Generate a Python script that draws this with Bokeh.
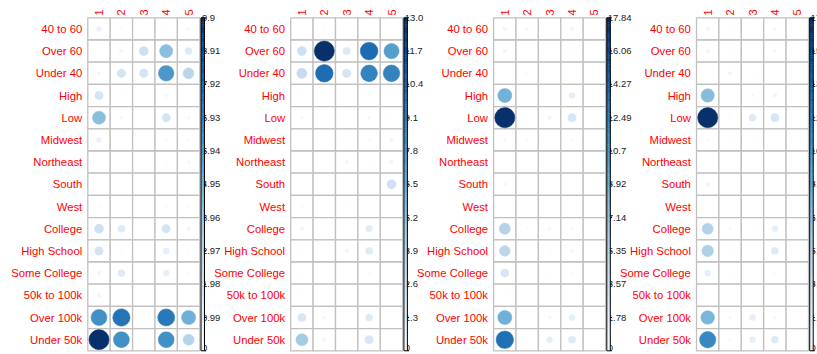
import math
from bokeh.plotting import figure
from bokeh.models import ColumnDataSource, Range1d, LinearColorMapper
from bokeh.transform import transform
from bokeh.core.properties import value
from bokeh.embed import file_html
from bokeh.resources import INLINE

# ---- data -------------------------------------------------------------
rows = ["40 to 60", "Over 60", "Under 40", "High", "Low", "Midwest", "Northeast",
        "South", "West", "College", "High School", "Some College", "50k to 100k",
        "Over 100k", "Under 50k"]
cols = ["1", "2", "3", "4", "5"]

panel1 = [
    [0.66, 0.12, 0.05, 0.12, 0.25],
    [0.06, 0.43, 2.05, 4.20, 1.26],
    [0.25, 1.75, 1.75, 5.90, 2.88],
    [1.75, 0.08, 0.05, 0.25, 0.12],
    [4.20, 0.25, 0.05, 1.75, 0.25],
    [0.66, 0.05, 0.05, 0.12, 0.12],
    [0.06, 0.06, 0.12, 0.12, 0.25],
    [0.06, 0.06, 0.05, 0.06, 0.12],
    [0.12, 0.05, 0.12, 0.12, 0.25],
    [2.05, 1.26, 0.05, 1.75, 0.43],
    [1.75, 0.12, 0.06, 0.93, 0.12],
    [0.43, 1.26, 0.05, 0.93, 0.12],
    [0.43, 0.05, 0.06, 0.05, 0.05],
    [6.20, 7.30, 0.05, 7.10, 4.90],
    [9.90, 6.20, 0.05, 6.20, 3.00],
]
panel2 = [
    [0.05, 0.15, 0.05, 0.05, 0.05],
    [2.70, 13.0, 1.80, 10.0, 7.40],
    [3.30, 9.90, 2.30, 8.90, 8.90],
    [0.15, 0.05, 0.08, 0.15, 0.08],
    [0.33, 0.05, 0.08, 0.33, 0.15],
    [0.05, 0.05, 0.05, 0.15, 0.56],
    [0.08, 0.05, 0.56, 0.15, 0.56],
    [0.05, 0.05, 0.15, 0.05, 2.70],
    [0.15, 0.08, 0.15, 0.05, 0.05],
    [0.56, 0.08, 0.15, 1.43, 0.05],
    [0.15, 0.08, 0.56, 1.65, 0.05],
    [0.15, 0.08, 0.05, 0.15, 0.08],
    [0.15, 0.05, 0.05, 0.08, 0.05],
    [2.14, 0.33, 0.08, 1.65, 0.08],
    [4.70, 0.56, 0.08, 2.14, 0.05],
]
panel3 = [
    [0.77, 0.45, 0.07, 0.77, 0.10],
    [0.77, 0.07, 0.07, 0.21, 0.07],
    [0.07, 0.21, 0.07, 0.10, 0.07],
    [8.60, 0.10, 0.21, 1.68, 0.07],
    [17.84, 0.10, 0.77, 2.90, 0.07],
    [0.45, 0.21, 0.10, 0.21, 0.07],
    [0.07, 0.07, 0.07, 0.07, 0.21],
    [0.45, 0.21, 0.21, 0.10, 0.07],
    [0.07, 0.07, 0.07, 0.07, 0.07],
    [5.50, 0.21, 0.45, 0.45, 0.10],
    [5.00, 0.10, 0.21, 0.45, 0.07],
    [2.90, 0.10, 0.21, 0.21, 0.07],
    [0.21, 0.07, 0.07, 0.10, 0.07],
    [8.80, 0.10, 0.45, 1.68, 0.07],
    [13.40, 0.21, 1.68, 2.27, 0.07],
]
panel4 = [
    [0.75, 0.20, 0.07, 0.43, 0.07],
    [0.75, 0.20, 0.10, 0.43, 0.10],
    [0.07, 0.75, 0.20, 0.07, 0.10],
    [7.60, 0.10, 0.43, 0.75, 0.07],
    [17.30, 0.20, 2.20, 2.85, 0.07],
    [0.20, 0.20, 0.20, 0.10, 0.07],
    [0.10, 0.07, 0.07, 0.07, 0.07],
    [0.75, 0.10, 0.20, 0.10, 0.10],
    [0.10, 0.07, 0.07, 0.07, 0.07],
    [5.30, 0.43, 0.20, 1.63, 0.07],
    [5.70, 0.20, 0.10, 2.20, 0.07],
    [1.63, 0.20, 0.10, 0.20, 0.07],
    [0.10, 0.07, 0.07, 0.10, 0.10],
    [8.00, 0.43, 1.63, 0.43, 0.07],
    [11.40, 0.20, 1.63, 2.20, 0.07],
]
panels = [panel1, panel2, panel3, panel4]

scale_max = [9.9, 13.0, 17.84, 17.3]
tick_labels = [
    ["0", "0.99", "1.98", "2.97", "3.96", "4.95", "5.94", "6.93", "7.92", "8.91", "9.9"],
    ["0", "1.3", "2.6", "3.9", "5.2", "6.5", "7.8", "9.1", "10.4", "11.7", "13.0"],
    ["0", "1.78", "3.57", "5.35", "7.14", "8.92", "10.7", "12.49", "14.27", "16.06", "17.84"],
    ["0", "1.73", "3.46", "5.19", "6.92", "8.65", "10.38", "12.11", "13.84", "15.57", "17.3"],
]

# ---- colour ramp (white -> navy blues) --------------------------------
blues = ["#F7FBFF", "#DEEBF7", "#C6DBEF", "#9ECAE1", "#6BAED6",
         "#4292C6", "#2171B5", "#08519C", "#08306B"]


def ramp(stops, n):
    rgb = [tuple(int(s[i:i + 2], 16) for i in (1, 3, 5)) for s in stops]
    out = []
    for k in range(n):
        t = k / (n - 1) * (len(rgb) - 1)
        i = min(int(t), len(rgb) - 2)
        f = t - i
        c = [round(a + (b - a) * f) for a, b in zip(rgb[i], rgb[i + 1])]
        out.append("#%02x%02x%02x" % tuple(c))
    return out


palette = ramp(blues, 200)

# ---- figure (units: one cell = 1) ------------------------------------
W, H = 817, 354
cell_w, cell_h = 22.4, 22.2
grid_left_px, grid_top_px = 87.3, 17.3
panel_step = 202.9 / cell_w
nrow, ncol = len(rows), len(cols)

x0 = -grid_left_px / cell_w
x1 = (W - grid_left_px) / cell_w
y1 = nrow + grid_top_px / cell_h
y0 = y1 - H / cell_h

p = figure(width=W, height=H, x_range=Range1d(x0, x1), y_range=Range1d(y0, y1),
           output_backend="svg", toolbar_location=None,
           x_axis_location=None, y_axis_location=None,
           min_border=0, min_border_left=0, min_border_right=0,
           min_border_top=0, min_border_bottom=0)
p.grid.visible = False
p.outline_line_color = None
p.background_fill_color = "white"
p.border_fill_color = "white"

FONT = value("Liberation Sans")
bar_l, bar_r = 5.054, 5.21

for k, (vals, vmax, labels) in enumerate(zip(panels, scale_max, tick_labels)):
    off = k * panel_step
    mapper = LinearColorMapper(palette=palette, low=0, high=vmax)

    xs, ys, vs, rs = [], [], [], []
    for i, r in enumerate(rows):
        for j, c in enumerate(cols):
            v = vals[i][j]
            xs.append(off + j + 0.5)
            ys.append(nrow - i - 0.5)
            vs.append(v)
            rs.append(0.45 * math.sqrt(v / vmax))
    src = ColumnDataSource(dict(x=xs, y=ys, v=vs, r=rs))

    # cell grid
    p.rect("x", "y", width=1, height=1, source=src, fill_color="white",
           line_color="#c0c0c0", line_width=1.3)
    # circles: area and colour scale with the value
    p.circle("x", "y", radius="r", source=src,
             fill_color=transform("v", mapper), line_color=transform("v", mapper),
             line_width=0.5)

    # colour legend labels (drawn first so the bar sits over their left edge)
    ty = [nrow * t / 10 for t in range(11)]
    ty_lab = [max(t, 0.12) for t in ty]
    p.text(x=[off + bar_l + 0.04] * 11, y=ty_lab, text=labels,
           text_font=FONT, text_font_size="9.5px", text_color="#222222",
           text_align="left", text_baseline="middle")

    nseg = 150
    seg_b = [nrow * s / nseg for s in range(nseg)]
    seg_t = [nrow * (s + 1) / nseg for s in range(nseg)]
    seg_v = [vmax * (s + 0.5) / nseg for s in range(nseg)]
    bar = ColumnDataSource(dict(b=seg_b, t=seg_t, v=seg_v))
    p.quad(left=off + bar_l, right=off + bar_r, bottom="b", top="t", source=bar,
           fill_color=transform("v", mapper), line_color=transform("v", mapper),
           line_width=0.3)
    p.quad(left=[off + bar_l], right=[off + bar_r], bottom=[0], top=[nrow],
           fill_color=None, line_color="black", line_width=1)
    p.segment(x0=[off + bar_r] * 11, y0=ty, x1=[off + bar_r + 0.07] * 11, y1=ty,
              line_color="black", line_width=1)

    # row labels
    p.text(x=[off - 0.25] * nrow, y=[nrow - i - 0.5 for i in range(nrow)], text=rows,
           text_font=FONT, text_font_size="11.3px", text_color="#FF0000",
           text_align="right", text_baseline="middle")
    # column labels, rotated
    p.text(x=[off + j + 0.5 for j in range(ncol)], y=[nrow + 0.1] * ncol, text=cols,
           angle=math.pi / 2, text_font=FONT, text_font_size="11px",
           text_color="#FF0000", text_align="left", text_baseline="middle")

open("out.html", "w").write(file_html(p, INLINE))
